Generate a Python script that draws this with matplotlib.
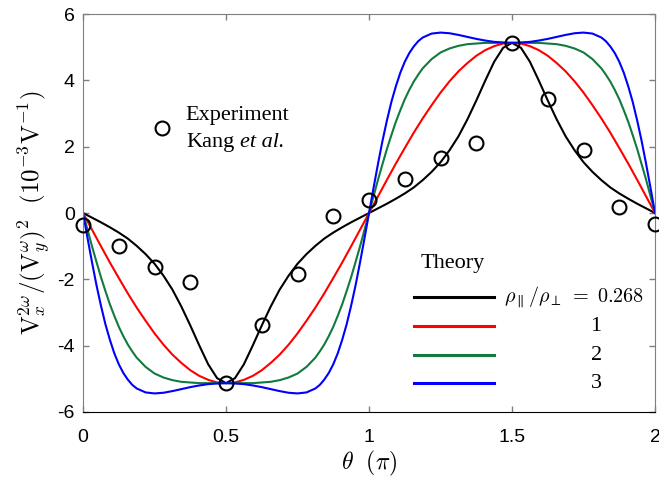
import numpy as np
import matplotlib.pyplot as plt

plt.rcParams['mathtext.fontset'] = 'cm'
plt.rcParams['axes.unicode_minus'] = False
plt.rcParams['font.family'] = ['Liberation Sans', 'DejaVu Sans']

# angle in units of pi; black and red sampled every pi/32
theta = np.arange(65) / 32
# green and blue are steep near 0, 1, 2 -> sampled every pi/64 there
theta_fine = np.concatenate([np.arange(0, 13) / 64, np.arange(7, 26) / 32,
                             np.arange(52, 77) / 64, np.arange(39, 58) / 32,
                             np.arange(116, 129) / 64])

black = [0.00, -0.14, -0.28, -0.43, -0.59, -0.77, -0.99, -1.24, -1.53, -1.89, -2.31, -2.82, -3.39, -3.99, -4.56, -4.98, -5.13,
         -4.98, -4.56, -3.99, -3.39, -2.82, -2.31, -1.89, -1.53, -1.24, -0.99, -0.77, -0.59, -0.43, -0.28, -0.14, 0.00,
         0.14, 0.28, 0.43, 0.59, 0.77, 0.99, 1.24, 1.53, 1.89, 2.31, 2.82, 3.39, 3.99, 4.56, 4.98, 5.13,
         4.98, 4.56, 3.99, 3.39, 2.82, 2.31, 1.89, 1.53, 1.24, 0.99, 0.77, 0.59, 0.43, 0.28, 0.14, 0.00]
red = [0.00, -0.50, -1.00, -1.49, -1.96, -2.42, -2.85, -3.25, -3.63, -3.97, -4.27, -4.52, -4.74, -4.91, -5.03, -5.11, -5.13,
       -5.11, -5.03, -4.91, -4.74, -4.52, -4.27, -3.97, -3.63, -3.25, -2.85, -2.42, -1.96, -1.49, -1.00, -0.50, 0.00,
       0.50, 1.00, 1.49, 1.96, 2.42, 2.85, 3.25, 3.63, 3.97, 4.27, 4.52, 4.74, 4.91, 5.03, 5.11, 5.13,
       5.11, 5.03, 4.91, 4.74, 4.52, 4.27, 3.97, 3.63, 3.25, 2.85, 2.42, 1.96, 1.49, 1.00, 0.50, 0.00]
green = [0.00, -0.50, -1.00, -1.47, -1.93, -2.35, -2.75, -3.10, -3.43, -3.71, -3.96, -4.17, -4.36,
         -4.64, -4.84, -4.96, -5.04, -5.09, -5.11, -5.13, -5.13, -5.13, -5.13, -5.13, -5.13, -5.13, -5.11, -5.09, -5.04, -4.96, -4.84, -4.64,
         -4.36, -4.17, -3.96, -3.71, -3.43, -3.10, -2.75, -2.35, -1.93, -1.47, -1.00, -0.50, 0.00,
         0.50, 1.00, 1.47, 1.93, 2.35, 2.75, 3.10, 3.43, 3.71, 3.96, 4.17, 4.36,
         4.64, 4.84, 4.96, 5.04, 5.09, 5.11, 5.13, 5.13, 5.13, 5.13, 5.13, 5.13, 5.13, 5.11, 5.09, 5.04, 4.96, 4.84, 4.64,
         4.36, 4.17, 3.96, 3.71, 3.43, 3.10, 2.75, 2.35, 1.93, 1.47, 1.00, 0.50, 0.00]
blue = [0.00, -0.75, -1.48, -2.17, -2.79, -3.35, -3.82, -4.23, -4.56, -4.82, -5.02, -5.18, -5.29,
        -5.41, -5.44, -5.42, -5.37, -5.31, -5.25, -5.20, -5.16, -5.14, -5.13, -5.14, -5.16, -5.20, -5.25, -5.31, -5.37, -5.42, -5.44, -5.41,
        -5.29, -5.18, -5.02, -4.82, -4.56, -4.23, -3.82, -3.35, -2.79, -2.17, -1.48, -0.75, 0.00,
        0.75, 1.48, 2.17, 2.79, 3.35, 3.82, 4.23, 4.56, 4.82, 5.02, 5.18, 5.29,
        5.41, 5.44, 5.42, 5.37, 5.31, 5.25, 5.20, 5.16, 5.14, 5.13, 5.14, 5.16, 5.20, 5.25, 5.31, 5.37, 5.42, 5.44, 5.41,
        5.29, 5.18, 5.02, 4.82, 4.56, 4.23, 3.82, 3.35, 2.79, 2.17, 1.48, 0.75, 0.00]

# experiment (Kang et al.)
theta_exp = [0, 0.125, 0.25, 0.375, 0.5, 0.625, 0.75, 0.875, 1.0,
             1.125, 1.25, 1.375, 1.5, 1.625, 1.75, 1.875, 2.0]
v_exp = [-0.35, -1.0, -1.62, -2.07, -5.13, -3.38, -1.84, -0.08, 0.38,
         1.03, 1.65, 2.1, 5.13, 3.45, 1.9, 0.19, -0.33]

ratio_labels = [r'$\rho_\parallel/\rho_\perp\;=\;0.268$', '1', '2', '3']
colors = ['black', '#ff0000', '#117a3e', '#0000ff']

fig = plt.figure(figsize=(6.59, 4.83), dpi=100)
ax = fig.add_axes([0.126, 0.147, 0.868, 0.824])

ax.plot(theta, black, color=colors[0], lw=1.5, zorder=2)
ax.plot(theta, red, color=colors[1], lw=1.5, zorder=2)
ax.plot(theta_fine, green, color=colors[2], lw=1.5, zorder=2)
ax.plot(theta_fine, blue, color=colors[3], lw=1.5, zorder=2)

ax.plot(theta_exp, v_exp, 'o', ms=10, mfc='none', mec='black', mew=1.5, zorder=3, clip_on=False)

ax.set_xlim(0, 2)
ax.set_ylim(-6, 6)
ax.set_xticks([0, 0.5, 1, 1.5, 2])
ax.set_xticklabels(['0', '0.5', '1', '1.5', '2'])
ax.set_yticks([-6, -4, -2, 0, 2, 4, 6])
ax.set_yticklabels(['-6', '-4', '-2', '0', '2', '4', '6'])
ax.tick_params(direction='in', length=4, width=1, color='#7f7f7f', top=True, right=True, labelsize=14)
ax.tick_params(axis='x', pad=12)
ax.tick_params(axis='y', pad=6)
for side in ['left', 'top', 'right']:
    ax.spines[side].set_color('#7f7f7f')
ax.spines['bottom'].set_color('black')

ax.set_xlabel(r'$\theta\ \ (\pi)$', fontsize=17, labelpad=2)
ax.set_ylabel(r'$\mathrm{V}_x^{2\omega}/(\mathrm{V}_y^{\omega})^2\ \ (10^{-3}\mathrm{V}^{-1})$', fontsize=18, labelpad=3)

# legend: experiment
ax.plot([0.1376], [0.714], 'o', ms=10, mfc='none', mec='black', mew=1.5, transform=ax.transAxes)
ax.text(0.269, 0.746, 'Experiment', transform=ax.transAxes, ha='center', va='center',
        family='Liberation Serif', fontsize=16)
ax.text(0.2657, 0.676, 'Kang', transform=ax.transAxes, ha='right', va='center',
        family='Liberation Serif', fontsize=16)
ax.text(0.2745, 0.676, 'et al.', transform=ax.transAxes, ha='left', va='center',
        family='Liberation Serif', style='italic', fontsize=16)

# legend: theory
ax.text(0.647, 0.374, 'Theory', transform=ax.transAxes, ha='center', va='center',
        family='Liberation Serif', fontsize=16)
legend_y = [0.288, 0.215, 0.142, 0.072]
for c, lab, yy in zip(colors, ratio_labels, legend_y):
    ax.plot([0.579, 0.719], [yy, yy], color=c, lw=2.2, transform=ax.transAxes)
    if lab.startswith('$'):
        ax.text(0.736, yy, lab, transform=ax.transAxes, ha='left', va='center', fontsize=14.5)
    else:
        ax.text(0.897, yy, lab, transform=ax.transAxes, ha='center', va='center',
                family='Liberation Serif', fontsize=16)

fig.savefig('out.png', dpi=100)
